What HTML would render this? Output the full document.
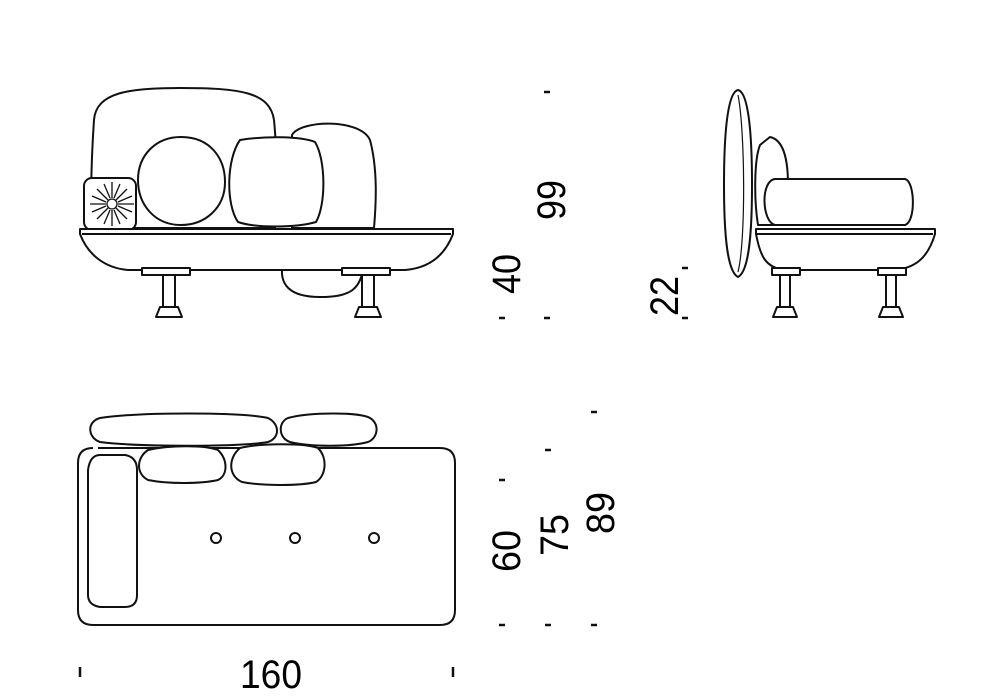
<!DOCTYPE html>
<html><head><meta charset="utf-8"><style>
html,body{margin:0;padding:0;background:#fff;width:1000px;height:700px;overflow:hidden}
svg{display:block}
text{font-family:"Liberation Sans Narrow","Liberation Sans",sans-serif;font-size:40px;fill:#000}
</style></head><body>
<svg width="1000" height="700" viewBox="0 0 1000 700" fill="none" stroke="#111" stroke-width="2" stroke-linejoin="round">
<!-- FRONT VIEW -->
<!-- rear lower blob -->
<path d="M283 262 C278 285 290 297 320 297 C350 297 362 290 364 262" fill="#fff"/>
<!-- back cushion 2 -->
<path d="M292 135 C300 120 360 118 370 140 C378 170 376 205 374 228 L292 228 Z" fill="#fff"/>
<!-- main back cushion -->
<path d="M94 120 C96 92 130 88 180 88 C240 88 270 92 274 120 C278 160 276 200 275 228 L92 228 C90 190 92 150 94 120 Z" fill="#fff"/>
<!-- square cushion sunburst -->
<rect x="84" y="178" width="52" height="52" rx="8" fill="#fff"/>
<g stroke-width="1.3">
<circle cx="112" cy="204" r="5"/>
<path d="M112 182V198M112 210V226M90 204H106M118 204H134M97 189L108 200M116 208L127 219M127 189L116 200M108 208L97 219M104 184L110 198M114 210L120 224M120 184L114 198M110 210L104 224M92 196L106 202M118 206L132 212M92 212L106 206M118 202L132 196"/>
</g>
<!-- round pillow -->
<path d="M181 137 C210 137 225 158 225 182 C225 208 205 225 181 225 C155 225 138 205 138 180 C138 155 156 137 181 137 Z" fill="#fff"/>
<!-- squarish pillow -->
<path d="M240 140 C265 136 300 136 315 142 C326 160 326 205 316 222 C295 228 255 228 238 222 C226 205 226 160 240 140 Z" fill="#fff"/>
<!-- seat tray -->
<path d="M80 229 L453 229 L453 234 C445 255 430 268 405 270 L128 270 C105 268 88 255 80 234 Z" fill="#fff"/>
<line x1="82" y1="234" x2="451" y2="234"/>
<!-- legs -->
<g fill="#fff">
<rect x="142" y="268" width="48" height="7"/>
<rect x="163" y="275" width="12" height="32"/>
<path d="M160 307 H178 L182 317 H156 Z"/>
<rect x="342" y="268" width="48" height="7"/>
<rect x="362" y="275" width="12" height="32"/>
<path d="M359 307 H377 L381 317 H355 Z"/>
</g>

<!-- SIDE VIEW -->
<path d="M738 90 C748 92 752 130 752 185 C752 240 748 272 738 277 C728 272 724 240 724 185 C724 130 728 92 738 90 Z" fill="#fff"/>
<path d="M738 95 C745 130 746 240 738 272" stroke-width="1.2"/>
<path d="M770 137 C784 140 788 160 788 185 L788 225 L758 225 C754 200 754 160 760 145 Z" fill="#fff"/>
<path d="M775 179 L905 179 C915 181 916 222 905 225 L775 225 C762 222 760 181 775 179 Z" fill="#fff"/>
<path d="M756 229 L935 229 L935 234 C928 258 915 268 895 270 L785 270 C765 268 760 255 756 234 Z" fill="#fff"/>
<line x1="757" y1="234" x2="933" y2="234"/>
<g fill="#fff">
<rect x="772" y="268" width="28" height="7"/>
<rect x="780" y="275" width="10" height="32"/>
<path d="M777 307 H793 L797 317 H773 Z"/>
<rect x="878" y="268" width="28" height="7"/>
<rect x="886" y="275" width="10" height="32"/>
<path d="M883 307 H899 L903 317 H879 Z"/>
</g>

<!-- PLAN VIEW -->
<path d="M98 448 L440 448 Q455 448 455 463 L455 610 Q455 625 440 625 L93 625 Q78 625 78 610 L78 463 Q78 448 93 448" fill="#fff"/>
<path d="M100 455 L125 455 Q137 457 137 470 L137 595 Q137 607 125 607 L100 607 Q88 605 88 595 L88 470 Q90 455 100 455 Z" fill="#fff"/>
<path d="M100 418 C140 412 240 412 268 418 C280 424 280 438 268 442 C240 447 140 447 100 442 C88 438 86 422 100 418 Z" fill="#fff"/>
<path d="M288 418 C310 412 360 412 370 418 C380 424 378 438 368 442 C350 447 310 447 290 442 C278 438 278 422 288 418 Z" fill="#fff"/>
<path d="M148 450 C170 445 205 445 218 450 C228 460 228 475 218 480 C200 484 168 484 148 480 C136 474 136 458 148 450 Z" fill="#fff"/>
<path d="M240 448 C260 443 305 443 318 448 C328 458 326 476 316 482 C300 486 262 486 242 482 C228 476 228 458 240 448 Z" fill="#fff"/>
<circle cx="216" cy="538" r="5"/>
<circle cx="295" cy="538" r="5"/>
<circle cx="374" cy="538" r="5"/>

<!-- dimension ticks -->
<g stroke-width="2.5">
<line x1="544" y1="92" x2="550" y2="92"/>
<line x1="499" y1="258" x2="505" y2="258"/>
<line x1="499" y1="318" x2="505" y2="318"/>
<line x1="544" y1="318" x2="550" y2="318"/>
<line x1="682" y1="268" x2="688" y2="268"/>
<line x1="682" y1="318" x2="688" y2="318"/>
<line x1="499" y1="480" x2="505" y2="480"/>
<line x1="499" y1="625" x2="505" y2="625"/>
<line x1="545" y1="450" x2="551" y2="450"/>
<line x1="545" y1="625" x2="551" y2="625"/>
<line x1="591" y1="412" x2="597" y2="412"/>
<line x1="591" y1="625" x2="597" y2="625"/>
<line x1="80" y1="667" x2="80" y2="677"/>
<line x1="453" y1="667" x2="453" y2="677"/>
</g>
</svg>
<svg width="1000" height="700" style="position:absolute;left:0;top:0">
<text transform="translate(565,220) rotate(-90)" textLength="40" lengthAdjust="spacingAndGlyphs">99</text>
<text transform="translate(520,294) rotate(-90)" textLength="40" lengthAdjust="spacingAndGlyphs">40</text>
<text transform="translate(678,316) rotate(-90)" textLength="40" lengthAdjust="spacingAndGlyphs">22</text>
<text transform="translate(520,572) rotate(-90)" textLength="42" lengthAdjust="spacingAndGlyphs">60</text>
<text transform="translate(568,556) rotate(-90)" textLength="42" lengthAdjust="spacingAndGlyphs">75</text>
<text transform="translate(614,534) rotate(-90)" textLength="42" lengthAdjust="spacingAndGlyphs">89</text>
<text x="240" y="688" textLength="62" lengthAdjust="spacingAndGlyphs">160</text>
</svg>
</body></html>
